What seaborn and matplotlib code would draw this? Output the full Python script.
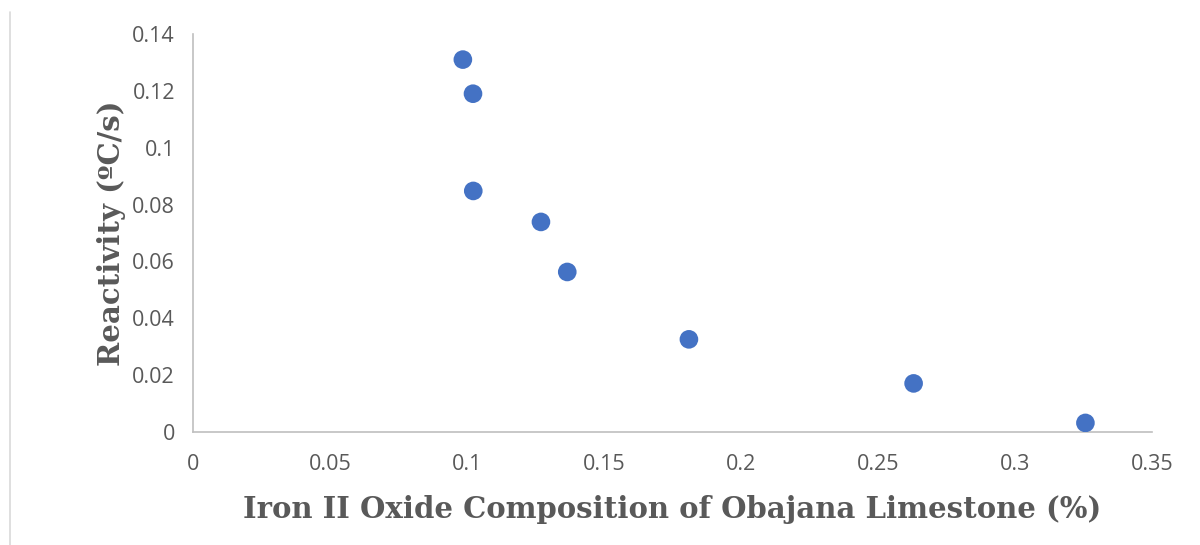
import numpy as np
import pandas as pd
import matplotlib
matplotlib.use("Agg")
import matplotlib.pyplot as plt
import seaborn as sns
from matplotlib.lines import Line2D

# Daten
iron_oxide = [0.0985, 0.1022, 0.1023, 0.127, 0.1366, 0.181, 0.263, 0.3257]
reactivity = [0.1310, 0.1190, 0.0848, 0.0739, 0.0563, 0.0326, 0.0171, 0.0032]
x_ticks = [0, 0.05, 0.1, 0.15, 0.2, 0.25, 0.3, 0.35]
y_ticks = [0, 0.02, 0.04, 0.06, 0.08, 0.1, 0.12, 0.14]

df = pd.DataFrame({"FeO": iron_oxide, "Reactivity": reactivity})

sns.set_style("white")
plt.rcParams['font.family'] = ['Open Sans', 'DejaVu Sans']

fig = plt.figure(figsize=(12, 5.45), dpi=100)
ax = fig.add_axes([0.1608, 0.2073, 0.7992, 0.7303])

sns.scatterplot(data=df, x="FeO", y="Reactivity", ax=ax, color="#4472C4",
                s=180, edgecolor="none", zorder=3)

ax.set_xlim(0, 0.35)
ax.set_ylim(0, 0.14)
ax.set_xticks(x_ticks)
ax.set_yticks(y_ticks)
ax.set_xticklabels([f"{v:g}" for v in x_ticks])
ax.set_yticklabels([f"{v:g}" for v in y_ticks])

grey = "#bfbfbf"
for side in ["top", "right"]:
    ax.spines[side].set_visible(False)
for side in ["left", "bottom"]:
    ax.spines[side].set_color(grey)
    ax.spines[side].set_linewidth(1.2)

ax.tick_params(axis="both", colors=grey, labelcolor="#595959", labelsize=15.5,
               length=6, width=1.2, direction="out")
ax.tick_params(axis="x", pad=10)
ax.tick_params(axis="y", pad=7)

label_font = dict(family="DejaVu Serif", weight="bold", color="#595959", size=21)
ax.set_xlabel("Iron II Oxide Composition of Obajana Limestone (%)", labelpad=14, **label_font)
ax.set_ylabel("Reactivity (ºC/s)", labelpad=4, **label_font)

# linker Rand des Diagrammrahmens
fig.add_artist(Line2D([10 / 1200, 10 / 1200], [0, 1 - 12 / 545],
                      transform=fig.transFigure, color="#d9d9d9", linewidth=1.2))

fig.savefig("out.png", dpi=100, facecolor="white")
